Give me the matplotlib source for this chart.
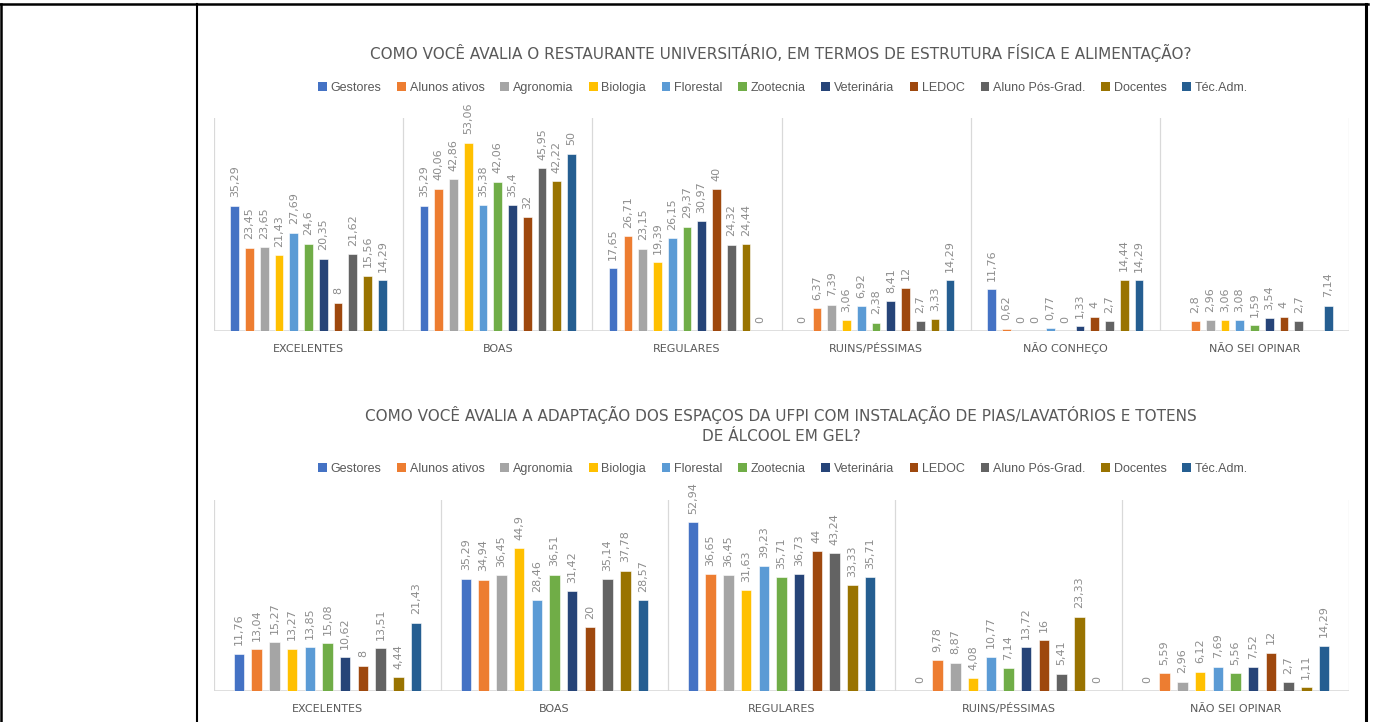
"""
Avaliação do RU e da adaptação dos espaços da UFPI, por segmento (%).
"""

import numpy as np
import matplotlib
matplotlib.use("Agg")
import matplotlib.pyplot as plt
from matplotlib.patches import Patch
from matplotlib.lines import Line2D

OUT_FILE = "out.png"

GROUPS = ["Gestores", "Alunos ativos", "Agronomia", "Biologia", "Florestal", "Zootecnia",
          "Veterinária", "LEDOC", "Aluno Pós-Grad.", "Docentes", "Téc.Adm."]
COLORS = ["#4472C4", "#ED7D31", "#A5A5A5", "#FFC000", "#5B9BD5", "#70AD47",
          "#264478", "#9E480E", "#636363", "#997300", "#255E91"]

# Pergunta 1: restaurante universitário
RU_TITLE = "COMO VOCÊ AVALIA O RESTAURANTE UNIVERSITÁRIO, EM TERMOS DE ESTRUTURA FÍSICA E ALIMENTAÇÃO?"
RU_CATS = ["EXCELENTES", "BOAS", "REGULARES", "RUINS/PÉSSIMAS", "NÃO CONHEÇO", "NÃO SEI OPINAR"]
RU_EXCELENTES = [35.29, 23.45, 23.65, 21.43, 27.69, 24.6, 20.35, 8, 21.62, 15.56, 14.29]
RU_BOAS = [35.29, 40.06, 42.86, 53.06, 35.38, 42.06, 35.4, 32, 45.95, 42.22, 50]
RU_REGULARES = [17.65, 26.71, 23.15, 19.39, 26.15, 29.37, 30.97, 40, 24.32, 24.44, 0]
RU_RUINS = [0, 6.37, 7.39, 3.06, 6.92, 2.38, 8.41, 12, 2.7, 3.33, 14.29]
RU_NAO_CONHECO = [11.76, 0.62, 0, 0, 0.77, 0, 1.33, 4, 2.7, 14.44, 14.29]
RU_NAO_SEI = [None, 2.8, 2.96, 3.06, 3.08, 1.59, 3.54, 4, 2.7, None, 7.14]

# Pergunta 2: pias/lavatórios e totens de álcool em gel
ESP_TITLE = ("COMO VOCÊ AVALIA A ADAPTAÇÃO DOS ESPAÇOS DA UFPI COM INSTALAÇÃO DE PIAS/LAVATÓRIOS E TOTENS\n"
             "DE ÁLCOOL EM GEL?")
ESP_CATS = ["EXCELENTES", "BOAS", "REGULARES", "RUINS/PÉSSIMAS", "NÃO SEI OPINAR"]
ESP_EXCELENTES = [11.76, 13.04, 15.27, 13.27, 13.85, 15.08, 10.62, 8, 13.51, 4.44, 21.43]
ESP_BOAS = [35.29, 34.94, 36.45, 44.9, 28.46, 36.51, 31.42, 20, 35.14, 37.78, 28.57]
ESP_REGULARES = [52.94, 36.65, 36.45, 31.63, 39.23, 35.71, 36.73, 44, 43.24, 33.33, 35.71]
ESP_RUINS = [0, 9.78, 8.87, 4.08, 10.77, 7.14, 13.72, 16, 5.41, 23.33, 0]
ESP_NAO_SEI = [0, 5.59, 2.96, 6.12, 7.69, 5.56, 7.52, 12, 2.7, 1.11, 14.29]

W, H = 1373, 722
TEXT = "#595959"
LABEL = "#8C8C8C"
GRID = "#D9D9D9"


def px_rect(left, top, right, bottom):
    return [left / W, 1 - bottom / H, (right - left) / W, (bottom - top) / H]


def draw_panel(ax, cats, series):
    # series: one list per category, values per group
    n = len(cats)
    slot = 0.078
    width = 0.046
    for gi, (name, color) in enumerate(zip(GROUPS, COLORS)):
        xs, vals = [], []
        for ci in range(n):
            v = series[ci][gi]
            if v is None:
                continue
            xs.append(ci + (gi - 5) * slot)
            vals.append(v)
        bars = ax.bar(xs, vals, width=width, color=color, edgecolor="white",
                      linewidth=0.4, zorder=3)
        for b, v in zip(bars, vals):
            ax.annotate(f"{v:g}".replace(".", ","),
                        (b.get_x() + b.get_width() / 2, b.get_height()),
                        xytext=(0, 6), textcoords="offset points",
                        rotation=90, ha="center", va="bottom",
                        fontsize=8, color=LABEL, family="DejaVu Sans")

    ax.set_xlim(-0.5, n - 0.5)
    ax.set_ylim(0, 60)
    for x in np.arange(n + 1) - 0.5:
        ax.axvline(x, color=GRID, linewidth=0.9, zorder=1)
    ax.axhline(0, color=GRID, linewidth=1.2, zorder=2)
    for s in ax.spines.values():
        s.set_visible(False)
    ax.set_yticks([])
    ax.set_xticks(range(n))
    ax.set_xticklabels(cats, fontsize=8, color=TEXT, family="DejaVu Sans")
    # keep every category label on a common baseline
    for lbl in ax.get_xticklabels():
        lbl.set_verticalalignment("baseline")
    ax.tick_params(axis="x", length=0, pad=15)


def main():
    fig = plt.figure(figsize=(W / 100, H / 100), dpi=100)

    # moldura da tabela
    frame = dict(color="black", transform=fig.transFigure)
    fig.add_artist(Line2D([0, 1368 / W], [1 - 4 / H] * 2, linewidth=1.8, **frame))
    fig.add_artist(Line2D([1 / W] * 2, [0, 1 - 4 / H], linewidth=1.8, **frame))
    fig.add_artist(Line2D([197 / W] * 2, [0, 1 - 4 / H], linewidth=1.5, **frame))
    fig.add_artist(Line2D([1366 / W] * 2, [0, 1 - 4 / H], linewidth=2.2, **frame))

    handles = [Patch(facecolor=c, edgecolor="none", label=g) for g, c in zip(GROUPS, COLORS)]
    legend_kw = dict(loc="center", ncol=11, frameon=False, handlelength=0.7,
                     handleheight=0.7, handletextpad=0.3, columnspacing=1.25,
                     labelcolor=TEXT, prop={"family": "Liberation Sans", "size": 9})

    ax1 = fig.add_axes(px_rect(214, 118, 1349, 331))
    draw_panel(ax1, RU_CATS, [RU_EXCELENTES, RU_BOAS, RU_REGULARES, RU_RUINS,
                              RU_NAO_CONHECO, RU_NAO_SEI])
    fig.text(781 / W, 1 - 53 / H, RU_TITLE, ha="center", va="center",
             fontsize=11, color=TEXT, family="DejaVu Sans")
    fig.legend(handles=handles, bbox_to_anchor=(783 / W, 1 - 88 / H), **legend_kw)

    ax2 = fig.add_axes(px_rect(214, 500, 1349, 691))
    draw_panel(ax2, ESP_CATS, [ESP_EXCELENTES, ESP_BOAS, ESP_REGULARES, ESP_RUINS, ESP_NAO_SEI])
    fig.text(781 / W, 1 - 425 / H, ESP_TITLE, ha="center", va="center",
             fontsize=11, color=TEXT, family="DejaVu Sans", linespacing=1.4)
    fig.legend(handles=handles, bbox_to_anchor=(783 / W, 1 - 469 / H), **legend_kw)

    fig.savefig(OUT_FILE, dpi=100)
    plt.close(fig)


if __name__ == "__main__":
    main()
